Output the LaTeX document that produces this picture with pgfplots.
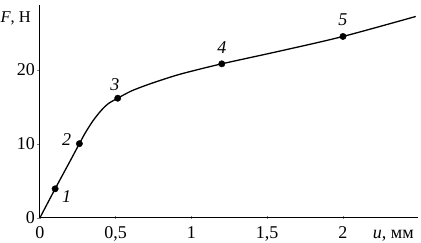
\documentclass[border=0pt]{standalone}
\usepackage{fontspec}
\setmainfont{Liberation Serif}
\usepackage{pgfplots}
\pgfplotsset{compat=1.18}
\begin{document}
\fontsize{18}{21}\selectfont
\begin{tikzpicture}
\begin{axis}[
  scale only axis,
  width=378pt, height=213pt,
  xmin=0, xmax=2.495, ymin=0, ymax=28.8,
  axis lines=left,
  axis line style={-, line width=1pt},
  xtick={0,0.5,1,1.5,2},
  ytick={0,10,20},
  xticklabels={0,{0,5},1,{1,5},2},
  yticklabels={0,10,20},
  x tick style={line width=0.6pt, yshift=1.5pt},
  tick align=outside,
  major tick length=3pt,
  /pgf/number format/assume math mode=true,
  tick label style={font=\fontsize{18}{21}\selectfont},
  xticklabel style={inner sep=0pt, yshift=-5.5pt},
  yticklabel style={inner sep=0pt, xshift=-2pt},
  every axis y label/.style={at={(rel axis cs:0,1)}, anchor=north east, xshift=-3pt, yshift=-1pt, font=\fontsize{16.5}{19}\selectfont},
  every axis x label/.style={at={(rel axis cs:1,0)}, anchor=base east, yshift=-20.5pt, xshift=2pt},
  ylabel={\textit{F}, Н},
  xlabel={\textit{u}, мм},
  clip=false,
]
\addplot[black, line width=1.3pt, smooth, tension=0.5] coordinates {
(0,0) (0.1,3.9) (0.2,7.7) (0.26,10) (0.3,11.5) (0.35,13.1) (0.4,14.4) (0.45,15.4)
(0.513,16.15) (0.6,17.1) (0.7,17.9) (0.8,18.6) (0.9,19.25) (1.0,19.8) (1.2,20.8)
(1.6,22.6) (2.0,24.5) (2.48,27.2)
};
\addplot[only marks, mark=*, mark size=3.2pt, black] coordinates {
(0.1,3.9) (0.26,10) (0.513,16.15) (1.2,20.8) (2.0,24.5)
};
\node[font=\itshape] at (axis cs:0.175,2.9) {1};
\node[font=\itshape] at (axis cs:0.175,10.5) {2};
\node[font=\itshape] at (axis cs:0.495,18.0) {3};
\node[font=\itshape] at (axis cs:1.2,23.0) {4};
\node[font=\itshape] at (axis cs:2.0,26.7) {5};
\coordinate (bbA) at (axis cs:-0.264,-3.33);
\coordinate (bbB) at (axis cs:2.515,29.43);
\end{axis}
\pgfresetboundingbox
\path (bbA) rectangle (bbB);
\end{tikzpicture}
\end{document}
